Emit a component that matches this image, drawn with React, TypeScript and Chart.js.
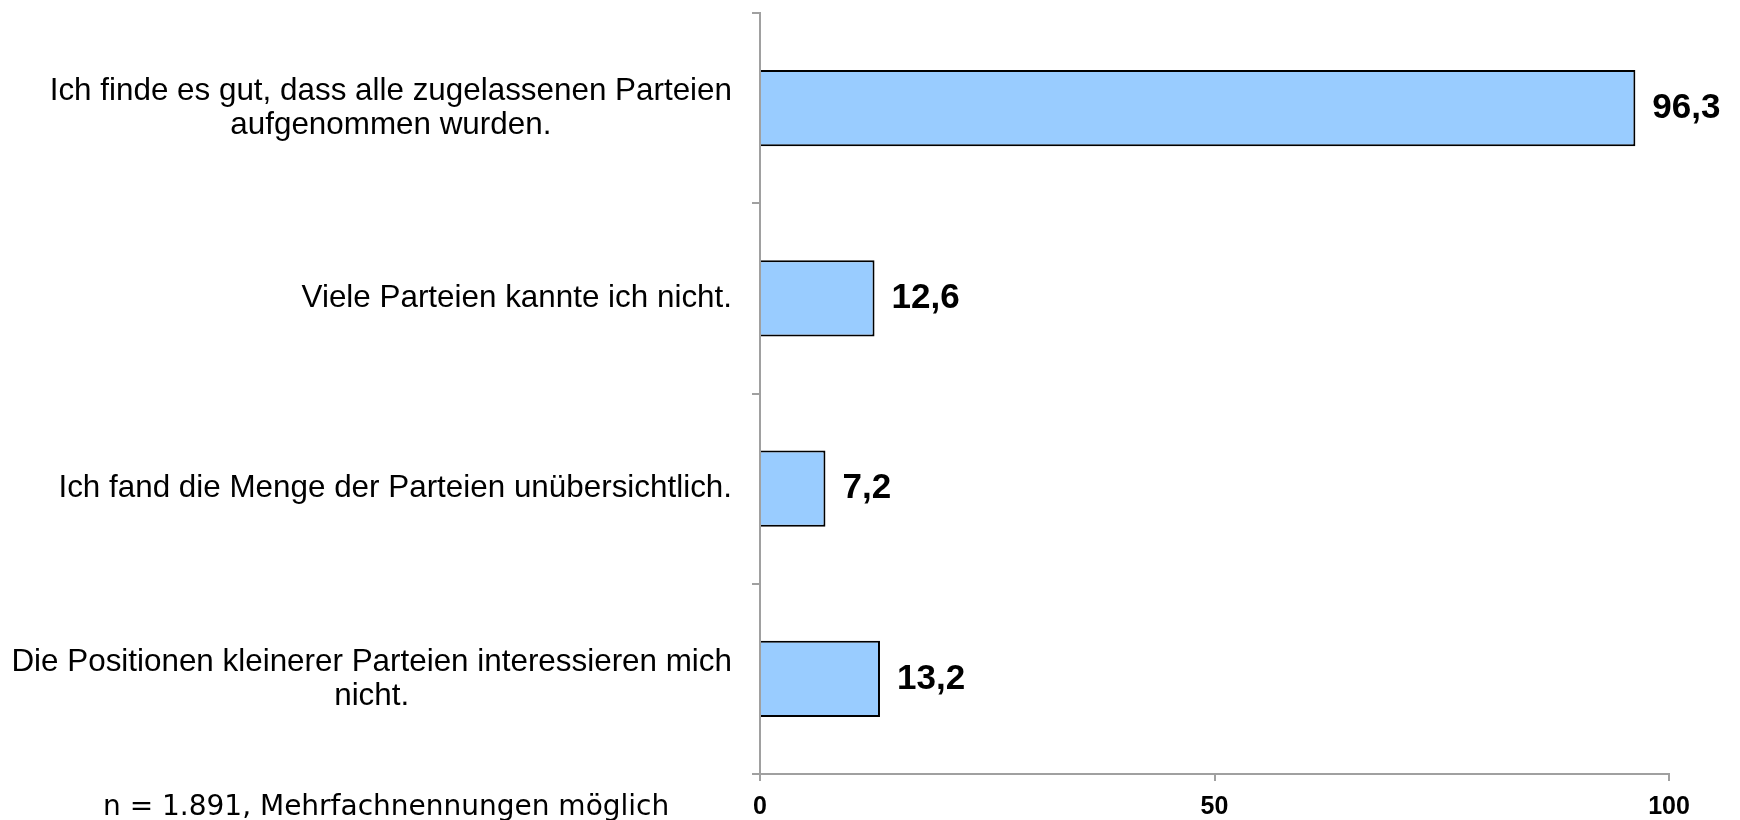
import React, { useEffect, useRef } from "react";
import { Chart, registerables } from "chart.js";

Chart.register(...registerables);

const categories: string[][] = [
  ["Ich finde es gut, dass alle zugelassenen Parteien", "aufgenommen wurden."],
  ["Viele Parteien kannte ich nicht."],
  ["Ich fand die Menge der Parteien unübersichtlich."],
  ["Die Positionen kleinerer Parteien interessieren mich", "nicht."],
];
const values: number[] = [96.3, 12.6, 7.2, 13.2];
const xTickValues: number[] = [0, 50, 100];
const footnote = "n = 1.891, Mehrfachnennungen möglich";

const FONT = "'Liberation Sans', Arial, sans-serif";

const labelPlugin = {
  id: "customLabels",
  afterDraw(chart: any) {
    const ctx = chart.ctx as CanvasRenderingContext2D;
    const yScale = chart.scales.y;
    ctx.save();
    ctx.fillStyle = "#000";
    ctx.font = `31.4px ${FONT}`;
    ctx.textBaseline = "middle";
    ctx.textAlign = "center";
    const right = chart.chartArea.left - 28;
    const lh = 34;
    categories.forEach((lines, i) => {
      const yc = yScale.getPixelForValue(i);
      const w = Math.max(...lines.map((l) => ctx.measureText(l).width));
      const cx = right - w / 2;
      lines.forEach((l, j) => {
        ctx.fillText(l, cx, yc + (j - (lines.length - 1) / 2) * lh);
      });
    });
    ctx.font = `bold 35px ${FONT}`;
    ctx.textAlign = "left";
    const meta = chart.getDatasetMeta(0);
    meta.data.forEach((bar: any, i: number) => {
      ctx.fillText(values[i].toFixed(1).replace(".", ","), bar.x + 17, bar.y);
    });
    ctx.font = "28px 'DejaVu Sans', sans-serif";
    ctx.textBaseline = "alphabetic";
    ctx.fillText(footnote, 103, 815);
    ctx.restore();
  },
};

export default function App() {
  const ref = useRef<HTMLCanvasElement>(null);
  useEffect(() => {
    if (!ref.current) return;
    const chart = new Chart(ref.current, {
      type: "bar",
      data: {
        labels: categories.map((c) => c.join(" ")),
        datasets: [
          {
            data: values,
            backgroundColor: "#99ccff",
            borderColor: "#000",
            borderWidth: 2,
            barPercentage: 0.4,
            categoryPercentage: 1.0,
          },
        ],
      },
      options: {
        indexAxis: "y",
        responsive: false,
        animation: false,
        devicePixelRatio: 1,
        layout: { padding: { top: 13, right: 71, left: 0, bottom: 0 } },
        plugins: { legend: { display: false }, tooltip: { enabled: false } },
        scales: {
          x: {
            min: 0,
            max: 100,
            afterBuildTicks: (s: any) => {
              s.ticks = xTickValues.map((v) => ({ value: v }));
            },
            grid: {
              drawOnChartArea: false,
              drawTicks: true,
              tickLength: 7,
              color: "#a0a0a0",
              lineWidth: 2,
            },
            border: { display: true, color: "#a0a0a0", width: 2 },
            ticks: {
              font: { family: FONT, size: 25, weight: "bold" },
              color: "#000",
              padding: 11,
              maxRotation: 0,
              autoSkip: false,
            },
            afterFit: (s: any) => {
              s.height = 46;
            },
          },
          y: {
            grid: {
              offset: true,
              drawOnChartArea: false,
              drawTicks: true,
              tickLength: 8,
              color: "#a0a0a0",
              lineWidth: 2,
            },
            border: { display: true, color: "#a0a0a0", width: 2 },
            ticks: { display: false },
            afterFit: (s: any) => {
              s.width = 760;
            },
          },
        },
      },
      plugins: [labelPlugin],
    } as any);
    return () => chart.destroy();
  }, []);
  return (
    <div
      style={{
        position: "fixed",
        left: 0,
        top: 0,
        width: 1740,
        height: 820,
        background: "#fff",
      }}
    >
      <canvas ref={ref} width={1740} height={820} style={{ width: 1740, height: 820, display: "block" }} />
    </div>
  );
}
